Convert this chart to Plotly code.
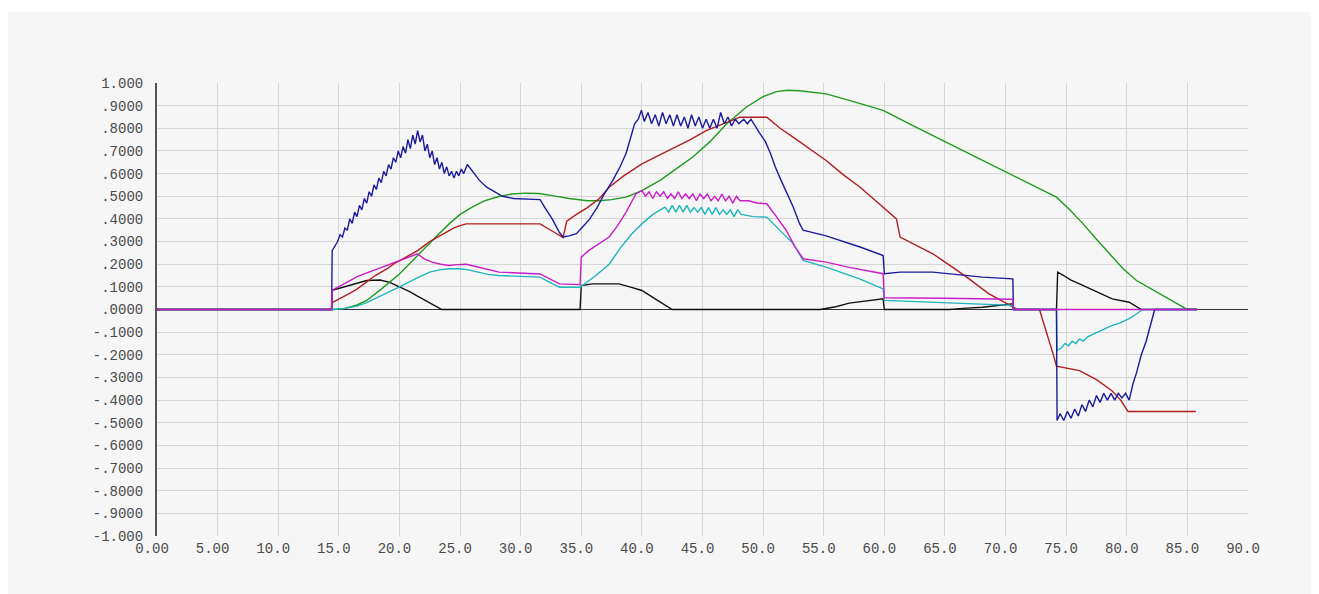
import plotly.graph_objects as go

# ---------------- data ----------------
blue_x = [0, 14.4, 14.45, 14.7, 14.9, 15.1, 15.3, 15.5, 15.7, 15.9, 16.1, 16.3, 16.5, 16.7, 16.9, 17.1, 17.3, 17.5, 17.7,
          17.9, 18.1, 18.3, 18.5, 18.7, 18.9, 19.1, 19.3, 19.5, 19.7, 19.9, 20.1, 20.3, 20.5, 20.7, 20.9, 21.1, 21.3,
          21.5, 21.7, 21.9, 22.1, 22.3, 22.5, 22.7, 22.9, 23.1, 23.3, 23.5, 23.7, 23.9, 24.1, 24.3, 24.5, 24.7, 24.9,
          25.1, 25.3, 25.6, 26.0, 26.6, 27.2, 27.8, 28.5, 29.4, 31.6, 32.0, 32.6, 33.2, 33.5, 34.0, 34.6, 35.2, 35.7,
          36.3, 36.9, 37.6, 38.2, 38.7, 39.1, 39.4, 39.7, 39.96, 40.2, 40.5, 40.8, 41.1, 41.4, 41.7, 42.0, 42.3, 42.6,
          42.9, 43.2, 43.5, 43.8, 44.1, 44.4, 44.7, 45.0, 45.3, 45.6, 45.9, 46.2, 46.5, 46.8, 47.1, 47.4, 47.7, 48.0,
          48.4, 48.7, 49.0, 49.7, 50.2, 50.6, 51.0, 51.4, 51.9, 52.5, 53.0, 53.3, 55.2, 58.0, 59.9, 60.0, 61.3, 64.0,
          68.1, 70.6, 70.65, 74.2, 74.25, 74.5, 74.8, 75.1, 75.4, 75.7, 76.0, 76.3, 76.6, 76.9, 77.2, 77.5, 77.8, 78.1,
          78.4, 78.7, 79.0, 79.3, 79.6, 79.9, 80.2, 80.5, 80.8, 81.2, 81.6, 82.0, 82.3, 85.8]
blue_y = [0, 0, 0.26, 0.28, 0.30, 0.33, 0.32, 0.36, 0.35, 0.40, 0.38, 0.43, 0.41, 0.46, 0.44, 0.49, 0.47, 0.52, 0.50,
          0.55, 0.53, 0.58, 0.56, 0.61, 0.59, 0.64, 0.62, 0.67, 0.65, 0.70, 0.67, 0.72, 0.69, 0.75, 0.71, 0.77, 0.73,
          0.79, 0.74, 0.77, 0.70, 0.73, 0.67, 0.70, 0.64, 0.67, 0.62, 0.65, 0.60, 0.63, 0.59, 0.61, 0.58, 0.61, 0.59,
          0.62, 0.60, 0.64, 0.61, 0.57, 0.54, 0.52, 0.50, 0.49, 0.485, 0.45, 0.40, 0.34, 0.32, 0.325, 0.335, 0.37, 0.40,
          0.45, 0.51, 0.57, 0.63, 0.69, 0.76, 0.82, 0.84, 0.88, 0.83, 0.87, 0.82, 0.86, 0.81, 0.87, 0.82, 0.86, 0.81,
          0.86, 0.81, 0.85, 0.80, 0.86, 0.81, 0.85, 0.80, 0.84, 0.80, 0.84, 0.80, 0.87, 0.82, 0.85, 0.81, 0.84, 0.82,
          0.84, 0.82, 0.84, 0.78, 0.74, 0.69, 0.63, 0.58, 0.52, 0.45, 0.38, 0.35, 0.325, 0.276, 0.238, 0.158, 0.165, 0.165,
          0.143, 0.135, 0, 0, -0.49, -0.46, -0.49, -0.45, -0.48, -0.44, -0.47, -0.42, -0.45, -0.40, -0.43, -0.38, -0.41, -0.37,
          -0.40, -0.37, -0.40, -0.37, -0.39, -0.37, -0.40, -0.33, -0.28, -0.20, -0.14, -0.06, 0, 0]

red_x = [0, 14.4, 14.45, 15, 15.5, 16, 16.5, 17, 17.5, 18, 18.5, 19, 19.5, 20, 20.5, 21, 21.5, 22, 22.5, 23, 23.5,
         24, 24.5, 25, 25.5, 31.6, 32.2, 32.8, 33.5, 33.8, 34.6, 35.5, 36.5, 37.3, 38.5, 40, 41.4, 42.8, 44, 45.3,
         46.4, 47.2, 48.1, 50.3, 51.4, 52.5, 53.8, 55.2, 56.5, 58, 59.5, 61.0, 61.3, 62.6, 64, 65.4, 66.8, 68.6,
         70.6, 71, 72.8, 73.4, 74.0, 74.2, 76.1, 77.5, 78.8, 79.5, 80.1, 85.7]
red_y = [0, 0, 0.03, 0.045, 0.06, 0.075, 0.09, 0.11, 0.13, 0.15, 0.165, 0.18, 0.2, 0.215, 0.23, 0.245, 0.26, 0.28,
         0.30, 0.315, 0.33, 0.345, 0.36, 0.37, 0.378, 0.378, 0.36, 0.34, 0.317, 0.39, 0.42, 0.45, 0.49, 0.54, 0.59,
         0.643, 0.68, 0.717, 0.75, 0.79, 0.812, 0.83, 0.849, 0.849, 0.80, 0.76, 0.71, 0.658, 0.60, 0.54, 0.47, 0.40,
         0.32, 0.285, 0.246, 0.195, 0.143, 0.07, 0.01, 0, 0, -0.1, -0.21, -0.25, -0.27, -0.31, -0.36, -0.40, -0.45, -0.45]

green_x = [0, 14.5, 15.5, 16.5, 17.3, 18.5, 20, 21.6, 23, 24.1, 25, 26, 27, 28.2, 29.3, 30.4, 31.5, 32.6, 34, 35.5,
           36.5, 37.5, 38.7, 40, 41.5, 42.8, 44.2, 45.6, 47, 48.6, 50, 51.1, 52, 53, 55.2, 57.1, 59.9, 62.6, 65.4,
           68.1, 70.9, 73, 74.2, 75.3, 76.4, 77.5, 78.6, 79.7, 80.8, 82, 83, 84, 84.9, 85.8]
green_y = [0, 0, 0.005, 0.02, 0.04, 0.09, 0.157, 0.246, 0.32, 0.378, 0.42, 0.452, 0.48, 0.499, 0.51, 0.514, 0.512,
           0.503, 0.49, 0.48, 0.48, 0.485, 0.496, 0.525, 0.57, 0.62, 0.673, 0.74, 0.82, 0.893, 0.94, 0.962, 0.968,
           0.966, 0.952, 0.923, 0.879, 0.805, 0.731, 0.658, 0.584, 0.53, 0.496, 0.44, 0.378, 0.31, 0.245, 0.18,
           0.128, 0.09, 0.062, 0.03, 0.003, 0]

magenta_x = [0, 14.4, 14.45, 15, 15.5, 16, 16.5, 17, 17.5, 18, 18.5, 19, 19.5, 20, 20.5, 21, 21.5, 22, 22.7, 23.4,
             24.1, 24.8, 25.5, 26.3, 27.1, 28.2, 31.6, 32.4, 33.2, 34.9, 35.0, 35.6, 36.5, 37.3, 38.0, 38.7, 39.5,
             40, 40.3, 40.6, 40.9, 41.2, 41.5, 41.8, 42.1, 42.4, 42.7, 43.0, 43.3, 43.6, 43.9, 44.2, 44.5, 44.8,
             45.1, 45.4, 45.7, 46.0, 46.3, 46.6, 46.9, 47.2, 47.5, 47.8, 48.1, 48.8, 49.5, 50.3, 51.1, 51.9, 52.6,
             53.3, 55.2, 57.1, 59.9, 60.0, 65, 70.6, 70.65, 85.8]
magenta_y = [0, 0, 0.085, 0.10, 0.115, 0.13, 0.145, 0.155, 0.165, 0.175, 0.185, 0.195, 0.205, 0.216, 0.225, 0.235,
             0.246, 0.225, 0.209, 0.2, 0.194, 0.198, 0.2, 0.19, 0.18, 0.165, 0.157, 0.135, 0.113, 0.11, 0.231, 0.26,
             0.29, 0.32, 0.37, 0.43, 0.51, 0.525, 0.50, 0.52, 0.49, 0.52, 0.50, 0.52, 0.49, 0.51, 0.49, 0.52, 0.49,
             0.51, 0.49, 0.51, 0.48, 0.51, 0.49, 0.51, 0.48, 0.50, 0.48, 0.51, 0.48, 0.50, 0.47, 0.50, 0.48, 0.48,
             0.47, 0.467, 0.41, 0.35, 0.28, 0.224, 0.209, 0.186, 0.158, 0.052, 0.05, 0.045, 0, 0]

cyan_x = [0, 14.5, 15.5, 16.5, 17.3, 18.5, 20, 21.6, 22.5, 23.3, 24.1, 24.9, 25.7, 26.5, 27.3, 28.2, 31.6, 32.4,
          33.2, 34.9, 35.1, 36.2, 37.3, 38.2, 39.1, 40, 40.9, 41.6, 41.9, 42.2, 42.5, 42.8, 43.1, 43.4, 43.7, 44.0,
          44.3, 44.6, 44.9, 45.2, 45.5, 45.8, 46.1, 46.4, 46.7, 47.0, 47.3, 47.6, 47.9, 48.2, 49.2, 50.3, 51.4,
          52.5, 53.3, 55.2, 57.96, 59.9, 60.0, 65, 70.6, 70.65, 74.2, 74.25, 74.6, 74.9, 75.2, 75.5, 75.8, 76.1,
          76.4, 76.8, 77.2, 77.6, 78.0, 78.4, 78.8, 79.4, 80.2, 80.8, 81.3, 85.8]
cyan_y = [0, 0, 0.005, 0.015, 0.03, 0.06, 0.10, 0.143, 0.165, 0.175, 0.18, 0.18, 0.175, 0.165, 0.155, 0.15, 0.143,
          0.12, 0.098, 0.098, 0.106, 0.15, 0.20, 0.27, 0.33, 0.378, 0.42, 0.44, 0.452, 0.43, 0.46, 0.43, 0.46, 0.43,
          0.46, 0.43, 0.45, 0.43, 0.45, 0.42, 0.45, 0.42, 0.45, 0.42, 0.44, 0.42, 0.44, 0.41, 0.44, 0.42, 0.41,
          0.408, 0.35, 0.29, 0.217, 0.187, 0.135, 0.091, 0.04, 0.03, 0.018, 0, 0, -0.18, -0.17, -0.15, -0.16,
          -0.14, -0.15, -0.13, -0.14, -0.12, -0.11, -0.10, -0.09, -0.08, -0.07, -0.06, -0.04, -0.02, 0, 0]

black_x = [0, 14.4, 14.45, 15.5, 16.5, 17.3, 18.4, 19.2, 20, 20.8, 21.6, 22.5, 23.3, 23.5, 34.9, 35.0, 35.9, 38.1,
           39, 40, 41, 42.2, 42.5, 54.7, 56, 57.1, 58.5, 59.9, 60.0, 65.4, 66.5, 68.1, 70.6, 70.65, 74.2, 74.3,
           74.8, 75.4, 76.1, 77, 77.8, 78.8, 80.2, 81.0, 81.2, 85.8]
black_y = [0, 0, 0.085, 0.10, 0.115, 0.128, 0.13, 0.12, 0.10, 0.08, 0.056, 0.03, 0.004, 0, 0, 0.106, 0.113, 0.113,
           0.10, 0.084, 0.05, 0.01, 0, 0, 0.012, 0.028, 0.038, 0.047, 0, 0, 0.005, 0.01, 0.025, 0, 0, 0.165, 0.15,
           0.13, 0.113, 0.09, 0.07, 0.047, 0.032, 0.007, 0, 0]

y_ticks = [1.0, 0.9, 0.8, 0.7, 0.6, 0.5, 0.4, 0.3, 0.2, 0.1, 0.0, -0.1, -0.2, -0.3, -0.4, -0.5, -0.6, -0.7, -0.8,
           -0.9, -1.0]
y_labels = ["1.000", ".9000", ".8000", ".7000", ".6000", ".5000", ".4000", ".3000", ".2000", ".1000", ".0000",
            "-.1000", "-.2000", "-.3000", "-.4000", "-.5000", "-.6000", "-.7000", "-.8000", "-.9000", "-1.000"]
x_ticks = [0, 5, 10, 15, 20, 25, 30, 35, 40, 45, 50, 55, 60, 65, 70, 75, 80, 85, 90]
x_labels = ["0.00", "5.00", "10.0", "15.0", "20.0", "25.0", "30.0", "35.0", "40.0", "45.0", "50.0", "55.0",
            "60.0", "65.0", "70.0", "75.0", "80.0", "85.0", "90.0"]

# ---------------- figure ----------------
series = [
    (black_x, black_y, "#111111"),
    (green_x, green_y, "#1f9a1f"),
    (red_x, red_y, "#b01e1e"),
    (cyan_x, cyan_y, "#1fb5bd"),
    (blue_x, blue_y, "#1c1c9a"),
    (magenta_x, magenta_y, "#c81ec8"),
]

fig = go.Figure()
for xs, ys, col in series:
    fig.add_trace(go.Scatter(x=xs, y=ys, mode="lines", line=dict(color=col, width=1.4),
                             showlegend=False, hoverinfo="skip"))

# page has an 8px body margin, so the figure is sized to fit the window
W, H = 1311, 586
L, R, T, B = 149, 71, 75, 58
pw, ph = W - L - R, H - T - B

# white strip at the very top (panel starts 4px below the figure top)
fig.add_shape(type="rect", xref="paper", yref="paper",
              x0=-L / pw - 0.01, x1=(W - L) / pw + 0.01,
              y0=(H - B - 4) / ph, y1=(H - B) / ph + 0.01,
              fillcolor="white", line=dict(width=0), layer="below")

tick_font = dict(family="Liberation Mono, DejaVu Sans Mono, monospace", size=14, color="#4a4a4a")

fig.update_layout(
    width=W, height=H,
    margin=dict(l=L, r=R, t=T, b=B, pad=0),
    paper_bgcolor="#f6f6f6",
    plot_bgcolor="rgba(0,0,0,0)",
    xaxis=dict(range=[0, 90], tickmode="array", tickvals=x_ticks, ticktext=x_labels,
               showgrid=True, gridcolor="#d6d6d6", gridwidth=1, zeroline=False,
               showline=False, ticks="", tickfont=tick_font,
               ticklabelstandoff=2, ticklabelshift=-5, fixedrange=True),
    yaxis=dict(range=[-1, 1], tickmode="array", tickvals=y_ticks, ticktext=y_labels,
               showgrid=True, gridcolor="#d6d6d6", gridwidth=1,
               zeroline=True, zerolinecolor="#333333", zerolinewidth=1,
               showline=True, linecolor="#555555", linewidth=2, mirror=False,
               ticks="", tickfont=tick_font, ticklabelstandoff=9, fixedrange=True),
)

fig.write_html("out.html")
